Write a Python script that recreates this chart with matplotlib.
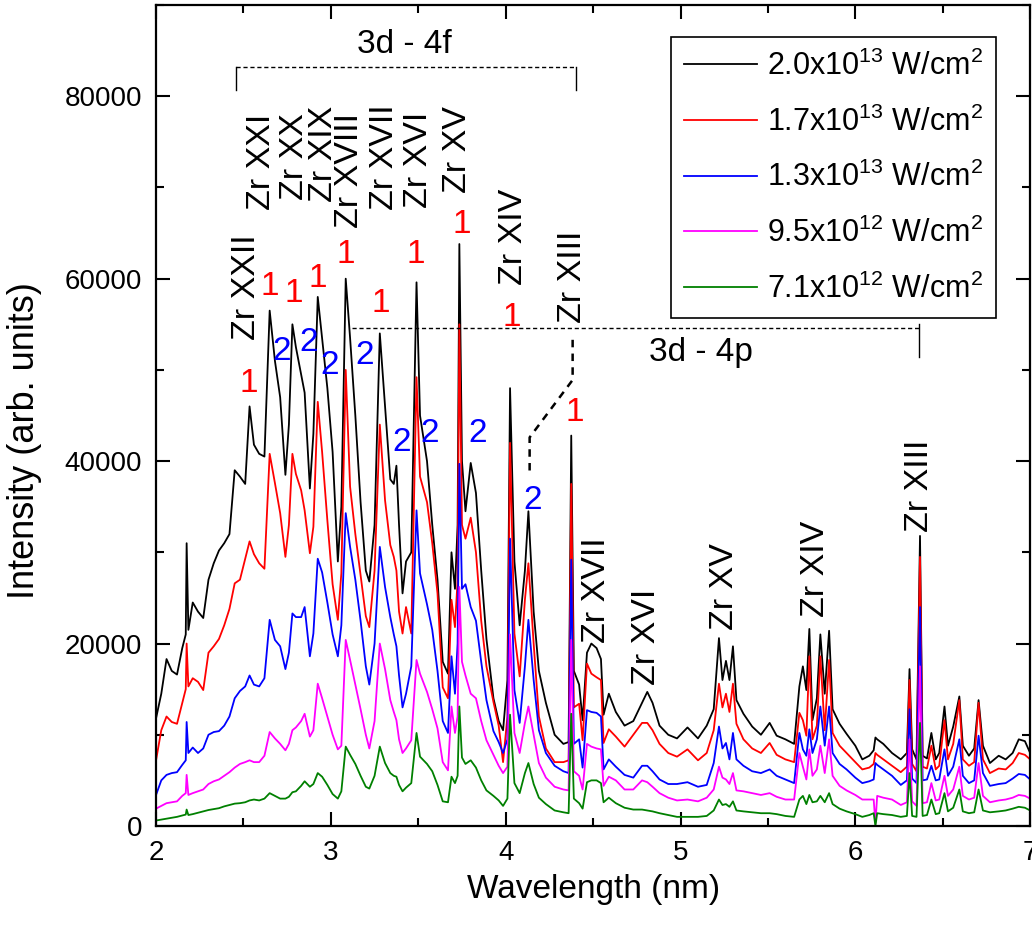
import matplotlib
matplotlib.use("Agg")
import matplotlib.pyplot as plt
from matplotlib.ticker import MultipleLocator

plt.rcParams['font.family'] = ['Liberation Sans', 'DejaVu Sans']
plt.rcParams['mathtext.fontset'] = 'custom'
plt.rcParams['mathtext.rm'] = 'Liberation Sans'
plt.rcParams['mathtext.it'] = 'Liberation Sans:italic'

# wavelength grid (nm), shared by all five spectra
wavelength = [
    2.00, 2.03, 2.06, 2.09, 2.12, 2.15, 2.17, 2.175, 2.185, 2.21, 2.24, 2.27, 2.30, 2.33, 2.36, 2.39, 2.42, 2.45, 2.48,
    2.51, 2.535, 2.56, 2.59, 2.62, 2.65, 2.68, 2.71, 2.74, 2.76, 2.78, 2.80, 2.83, 2.85, 2.88, 2.90, 2.925, 2.95, 2.98, 3.01, 3.04,
    3.06, 3.085, 3.11, 3.14, 3.17, 3.20, 3.22, 3.25, 3.28, 3.31, 3.34, 3.36, 3.375, 3.39, 3.41, 3.43, 3.46, 3.49, 3.51, 3.55, 3.58,
    3.61, 3.64, 3.67, 3.69, 3.71, 3.725, 3.735, 3.75, 3.77, 3.80, 3.83, 3.86, 3.89, 3.93, 3.96, 3.985,
    4.01, 4.025, 4.05, 4.08, 4.11, 4.13, 4.16, 4.19, 4.23, 4.28, 4.33, 4.36, 4.375, 4.39, 4.42, 4.44, 4.465, 4.49,
    4.52, 4.545, 4.56, 4.59, 4.63, 4.68, 4.73, 4.78, 4.81, 4.84, 4.88, 4.93, 4.98, 5.04, 5.10,
    5.15, 5.19, 5.22, 5.24, 5.26, 5.28, 5.30, 5.32, 5.36, 5.41, 5.46,
    5.51, 5.55, 5.60, 5.65, 5.68, 5.70, 5.72, 5.737, 5.755, 5.78, 5.80, 5.825, 5.85, 5.87, 5.91, 5.95,
    6.00, 6.04, 6.08, 6.105, 6.115, 6.125, 6.16, 6.21, 6.26, 6.295, 6.31, 6.325, 6.35, 6.37, 6.385, 6.41, 6.435, 6.46, 6.48,
    6.51, 6.53, 6.56, 6.595, 6.615, 6.65, 6.68, 6.705, 6.73, 6.77, 6.82, 6.86, 6.90, 6.935, 6.97, 7.00,
]

# 2.0x10^13 W/cm^2
int_20e13 = [
    11800, 14500, 18300, 17000, 16600, 19500, 21000, 31000, 21500, 24500, 23500, 22800, 27000, 28800, 30200, 31000, 32000, 39000, 38300,
    37500, 46000, 41800, 40800, 40500, 56500, 51000, 47000, 38500, 44000, 55000, 52500, 49500, 47500, 37000, 43000, 58000, 53500, 48000, 41000, 29000,
    35000, 60000, 53500, 45000, 35500, 28000, 26800, 33000, 54000, 46000, 38000, 37500, 39500, 33000, 25500, 29000, 30000, 59600, 45000, 40000, 33000,
    27000, 18000, 16700, 30000, 26000, 33000, 63800, 40000, 34500, 39800, 36500, 28000, 20500, 14000, 11500, 10500,
    16000, 48000, 29000, 22000, 28000, 34500, 23500, 17000, 13500, 10000, 9000, 9200, 42800, 17000, 15500, 11600, 19000, 20000,
    19500, 18300, 12200, 14500, 12500, 11000, 11500, 13500, 14700, 13500, 11000, 10000, 9600, 10800, 9600,
    11000, 12800, 20600, 16000, 18100, 16000, 19700, 13800, 12300, 10900, 10000,
    11300, 9900, 9500, 9000, 15300, 17500, 14900, 21600, 11600, 14000, 21000, 14500, 21400, 12800, 11200, 10100,
    8800, 7300, 7700, 8300, 9700, 9500, 9000, 8000, 7300, 8000, 17200, 8400, 7300, 31800, 7700, 7400, 10200, 7300, 8000,
    13100, 8800, 10900, 14200, 8800, 7700, 8500, 13800, 8800, 6900, 7700, 7300, 8000, 9500, 9300, 8000,
]

# 1.7x10^13 W/cm^2
int_17e13 = [
    7200, 10500, 12000, 11400, 11200, 13500, 15000, 20000, 15300, 16200, 15800, 14900, 19000, 19700, 20500, 22000, 23800, 26600, 27000,
    29300, 31200, 29800, 28800, 28200, 40800, 37600, 34300, 29500, 33000, 40800, 38600, 36800, 34600, 29900, 32800, 46500, 41000, 33500, 26500, 22600,
    27700, 50000, 37200, 32000, 27500, 23000, 21800, 28000, 44000, 35700, 30800, 29500, 28000, 23500, 21100, 24000, 21100, 49200, 38300, 35500, 31000,
    25500, 15200, 14000, 24800, 21800, 27000, 55000, 33000, 31500, 33800, 30000, 22500, 17500, 13600, 11000, 7000,
    12000, 42000, 21100, 16400, 24800, 28800, 20000, 12000, 8500, 7000, 7000, 7200, 37500, 13000, 13400, 9400, 17800, 16700,
    16300, 16000, 9100, 10600, 9800, 8700, 10000, 11300, 11300, 10500, 9000, 8000, 7600, 8400, 7200,
    8000, 10500, 15600, 13000, 14500, 12500, 15600, 11200, 9500, 8500, 8000,
    9100, 7800, 7300, 7000, 12400, 11600, 9900, 18600, 9500, 11000, 18600, 10500, 18200, 10200, 8800, 8000,
    7000, 6200, 6400, 6800, 8000, 7800, 7300, 6600, 5900, 6500, 16000, 6800, 6000, 29500, 6500, 6300, 8800, 6200, 6600,
    11600, 7300, 9000, 13800, 7300, 6600, 7000, 13500, 7300, 5800, 6300, 6200, 6900, 8000, 7800, 7300,
]

# 1.3x10^13 W/cm^2
int_13e13 = [
    3400, 5000, 5600, 5800, 5900, 6700, 7200, 11400, 8000, 8600, 8000, 8500, 10000, 10300, 10400, 11000, 12000, 14000, 14800,
    15300, 16500, 15500, 15300, 16200, 22600, 20400, 19700, 17200, 19000, 23300, 22900, 22900, 24000, 18600, 21100, 29300, 27800, 24500, 21000, 18600,
    22000, 34300, 30600, 27000, 22500, 17500, 15500, 20000, 30600, 26200, 22900, 21000, 19700, 16500, 13000, 14500, 17500, 34600, 27700, 24300, 21500,
    17000, 11500, 10200, 18600, 14500, 20000, 39700, 26000, 26500, 24000, 22500, 18000, 13800, 10400, 9200, 8000,
    9500, 31500, 14900, 11300, 17500, 22600, 16000, 10500, 8000, 6600, 6000, 5800, 29200, 9000, 9500, 6400, 12700, 12500,
    12400, 12000, 6200, 7300, 6500, 5600, 5300, 6600, 6600, 6000, 5100, 4600, 4600, 4800, 4300,
    4500, 6900, 10900, 8500, 9100, 7300, 10200, 7300, 6600, 6000, 5800,
    6200, 5500, 5100, 4700, 10200, 8400, 7700, 10600, 8000, 9500, 13100, 8800, 13100, 8000, 6800, 6200,
    5300, 4700, 4900, 5100, 6900, 6700, 6200, 5500, 4500, 5000, 12800, 5200, 4700, 24000, 5000, 5100, 6600, 5000, 5100,
    8400, 5500, 6500, 9500, 5500, 4700, 5000, 9900, 5800, 4400, 4600, 4700, 5200, 5700, 5600, 5100,
]

# 9.5x10^12 W/cm^2
int_95e12 = [
    1900, 2200, 2500, 2600, 2700, 3300, 3600, 5600, 3400, 3600, 3800, 4000, 4600, 4900, 5100, 5500, 5900, 6400, 6800,
    7000, 7200, 7000, 7000, 7700, 10300, 9600, 9000, 8300, 9000, 10500, 10800, 11500, 12300, 9800, 10500, 15600, 14000, 12000, 10000, 8400,
    8800, 20400, 18200, 15500, 12800, 10000, 8500, 11500, 20000, 17200, 13800, 12500, 11600, 9500, 8000, 8500, 9400, 18200, 16700, 14700, 12800,
    10700, 7000, 6100, 13100, 10200, 12000, 26200, 18000, 16500, 14500, 14000, 11500, 9400, 7800, 6600, 5800,
    6500, 21000, 10200, 8000, 11300, 13100, 10000, 6900, 5300, 4300, 4000, 3900, 20400, 6000, 5500, 4000, 9000, 8700,
    8500, 8400, 4400, 5400, 5000, 4000, 4000, 5000, 4800, 4300, 3600, 3100, 2800, 2900, 2700,
    3100, 4000, 6500, 5300, 5100, 4600, 5800, 3900, 3800, 3600, 3400,
    3600, 3200, 2900, 2900, 8000, 6500, 5100, 8400, 5500, 6200, 8800, 5800, 9500, 5500, 4400, 3900,
    3400, 2900, 2900, 2900, 300, 3300, 3100, 2900, 2300, 2600, 9500, 2700, 2200, 17500, 2500, 2600, 4700, 2800, 2900,
    5500, 3300, 4000, 6500, 3300, 2900, 3100, 6900, 3300, 2600, 2800, 2900, 3100, 3400, 3300, 3000,
]

# 7.1x10^12 W/cm^2
int_71e12 = [
    600, 700, 800, 900, 1000, 1150, 1250, 1800, 1200, 1300, 1450, 1600, 1750, 1850, 1950, 2150, 2300, 2450, 2500,
    2600, 2800, 2900, 2800, 3000, 3600, 3300, 3000, 3000, 3200, 3700, 3800, 4400, 4900, 4300, 4600, 5800, 5400, 4500, 3500, 3000,
    3800, 8700, 7800, 6800, 5500, 4300, 4100, 5500, 8700, 6900, 5800, 5500, 5400, 4500, 3800, 4200, 4700, 10200, 7600, 6800, 6000,
    4500, 2700, 2600, 5400, 4700, 5500, 13100, 7500, 6800, 7200, 6400, 5000, 3900, 3300, 2800, 2200,
    3000, 12200, 4700, 3600, 5800, 6900, 4600, 3100, 2400, 1700, 1500, 1400, 12300, 3000, 2500, 1900, 4800, 5000,
    5000, 4700, 2600, 3100, 2500, 2000, 1800, 1800, 1700, 1600, 1400, 1200, 1000, 1000, 1000,
    1100, 1700, 2900, 2300, 2400, 2100, 2700, 1700, 1600, 1500, 1400,
    1400, 1300, 1100, 1000, 2900, 3300, 2400, 3400, 2600, 2700, 3300, 2600, 3600, 2400, 1900, 1600,
    1300, 1000, 1200, 1400, 0, 1400, 1300, 1200, 1000, 1100, 5800, 1100, 1000, 11300, 1100, 1200, 2900, 1300, 1400,
    3600, 1600, 2000, 4000, 1600, 1400, 1500, 4000, 1700, 1500, 1600, 1700, 1900, 2100, 2000, 1700,
]

series = [
    (int_20e13, 'black', r'2.0x10$^{13}$ W/cm$^{2}$'),
    (int_17e13, '#ff0000', r'1.7x10$^{13}$ W/cm$^{2}$'),
    (int_13e13, '#0000ff', r'1.3x10$^{13}$ W/cm$^{2}$'),
    (int_95e12, '#ff00ff', r'9.5x10$^{12}$ W/cm$^{2}$'),
    (int_71e12, '#008000', r'7.1x10$^{12}$ W/cm$^{2}$'),
]

# ion labels: (text, wavelength, bottom of label)
ion_labels = [
    ('Zr XXII', 2.518, 53300), ('Zr XXI', 2.604, 67500), ('Zr XX', 2.794, 68600),
    ('Zr XIX', 2.956, 68400), ('Zr XVIII', 3.109, 65600), ('Zr XVII', 3.309, 67500),
    ('Zr XVI', 3.499, 67800), ('Zr XV', 3.727, 69400), ('Zr XIV', 4.042, 59300),
    ('Zr XIII', 4.385, 55100),
    ('Zr XVII', 4.518, 20100), ('Zr XVI', 4.804, 15500), ('Zr XV', 5.251, 21500),
    ('Zr XIV', 5.775, 22900), ('Zr XIII', 6.366, 32200),
]
# numbered markers (1 = red, 2 = blue)
marks_1 = [(2.533, 48500), (2.651, 59100), (2.785, 58400), (2.927, 60000), (3.086, 62600),
           (3.284, 57300), (3.484, 62600), (3.747, 65900), (4.033, 55800), (4.394, 45300)]
marks_2 = [(2.718, 52000), (2.87, 53000), (2.994, 50500), (3.194, 51600), (3.404, 42000),
           (3.566, 43000), (3.842, 43000), (4.156, 35700)]

fig = plt.figure(figsize=(10.32, 9.35), dpi=100)
ax = fig.add_axes([0.1512, 0.1166, 0.847, 0.878])

for y, c, lab in series:
    ax.plot(wavelength, y, color=c, lw=1.3, label=lab)

for txt, x, yb in ion_labels:
    ax.text(x, yb, txt, rotation=90, ha='center', va='bottom', fontsize=24.5)
for x, y in marks_1:
    ax.text(x, y, '1', color='#ff0000', ha='center', va='center', fontsize=24)
for x, y in marks_2:
    ax.text(x, y, '2', color='#0000ff', ha='center', va='center', fontsize=24)

# 3d - 4f bracket
ax.plot([2.457, 4.40], [83200, 83200], color='black', lw=1, dashes=(3, 2))
ax.plot([2.457, 2.457], [80700, 83200], color='black', lw=1)
ax.plot([4.40, 4.40], [80700, 83200], color='black', lw=1)
ax.text(3.42, 85700, '3d - 4f', ha='center', va='center', fontsize=24)

# 3d - 4p bracket
ax.plot([3.12, 6.366], [54600, 54600], color='black', lw=1, dashes=(3, 2))
ax.plot([6.366, 6.366], [51400, 55000], color='black', lw=1)
ax.text(5.118, 51900, '3d - 4p', ha='center', va='center', fontsize=24)

# connector from Zr XIII label to second-order line
ax.plot([4.383, 4.383, 4.137, 4.137], [53300, 48900, 42600, 38300],
        color='black', lw=1.8, dashes=(3, 2.5))

ax.set_xlim(2, 7)
ax.set_ylim(0, 90000)
ax.xaxis.set_major_locator(MultipleLocator(1))
ax.xaxis.set_minor_locator(MultipleLocator(0.5))
ax.yaxis.set_major_locator(MultipleLocator(20000))
ax.yaxis.set_minor_locator(MultipleLocator(10000))
ax.tick_params(which='both', direction='in', top=True, right=True, width=1.5,
               labelsize=20, pad=10)
ax.tick_params(which='major', length=10)
ax.tick_params(which='minor', length=6)
for s in ax.spines.values():
    s.set_linewidth(1.6)

ax.set_xlabel('Wavelength (nm)', fontsize=24, labelpad=6)
ax.set_ylabel('Intensity (arb. units)', fontsize=26)
ax.yaxis.set_label_coords(-0.13, 0.469)

leg = ax.legend(loc='upper right', bbox_to_anchor=(0.961, 0.961), fontsize=22,
                frameon=True, fancybox=False, framealpha=1, edgecolor='black',
                handlelength=2.4, handletextpad=0.3, labelspacing=0.8,
                borderpad=0.44, borderaxespad=0)
leg.get_frame().set_linewidth(1.2)

fig.savefig('out.png', dpi=100)
